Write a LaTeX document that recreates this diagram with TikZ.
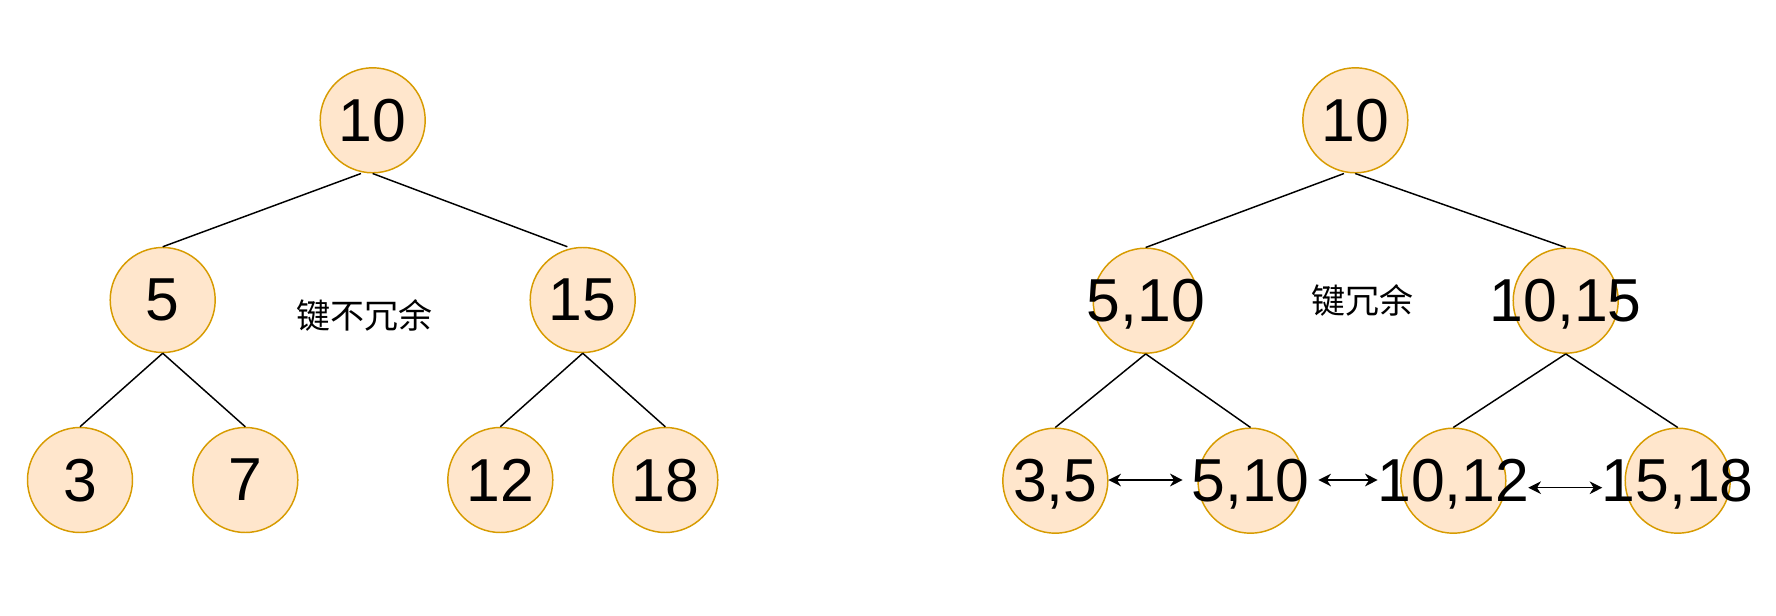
\documentclass[tikz,border=0pt]{standalone}
\usepackage{fontspec}
\setmainfont{Liberation Sans}
\newfontfamily\cjk{Noto Sans CJK SC}
\usetikzlibrary{arrows.meta}
\definecolor{nodefill}{HTML}{FFE6CC}
\definecolor{nodeline}{HTML}{D79B00}
\begin{document}
\begin{tikzpicture}[x=0.75pt,y=-0.75pt,
  keynode/.style={circle,draw=nodeline,fill=nodefill,line width=1.1pt,minimum size=78.75pt,inner sep=0pt},
  numtext/.style={font=\fontsize{45.5}{54}\selectfont,inner sep=0pt,text depth=0pt},
  note/.style={font=\cjk\fontsize{25.5}{30}\selectfont,inner sep=0pt},
  edgeline/.style={line width=1.1pt,black},
  link/.style={line width=1.1pt,black,{Stealth[length=9.5pt,width=9.5pt,inset=3pt]}-{Stealth[length=9.5pt,width=9.5pt,inset=3pt]}}]
\useasboundingbox (0,0) rectangle (1776,616);
% ---------- left tree ----------
\node[keynode] (lr) at (372.7,120.3) {};
\node[keynode] (la) at (162.7,300) {};
\node[keynode] (lb) at (582.7,300) {};
\node[keynode] (l1) at (80,480) {};
\node[keynode] (l2) at (245.3,480) {};
\node[keynode] (l3) at (500.3,480) {};
\node[keynode] (l4) at (665.3,480) {};
\node[numtext] (tlr) at (lr) {10};
\node[numtext] (tla) at (la) {5};
\node[numtext] (tlb) at (lb) {15};
\node[numtext] (tl1) at (l1) {3};
\node[numtext] (tl2) at (l2) {7};
\node[numtext] (tl3) at (l3) {12};
\node[numtext] (tl4) at (l4) {18};
\draw[edgeline] ([xshift=-8.8pt]lr.south) -- (la.north);
\draw[edgeline] (lr.south) -- ([xshift=-11.5pt]lb.north);
\draw[edgeline] (la.south) -- (l1.north);
\draw[edgeline] (la.south) -- (l2.north);
\draw[edgeline] (lb.south) -- (l3.north);
\draw[edgeline] (lb.south) -- (l4.north);
\node[note] (ln) at (364.5,315) {键不冗余};
% ---------- right tree ----------
\node[keynode] (rr) at (1355.3,120.3) {};
\node[keynode] (ra) at (1145.7,300.7) {};
\node[keynode] (rb) at (1565.7,300.7) {};
\node[keynode] (r1) at (1055.3,480.7) {};
\node[keynode] (r2) at (1250.5,480.7) {};
\node[keynode] (r3) at (1453.3,480.7) {};
\node[keynode] (r4) at (1677.7,480.7) {};
\node[numtext] (trr) at (rr) {10};
\node[numtext] (tra) at (ra) {5,10};
\node[numtext] (trb) at (rb) {10,15};
\node[numtext] (tr1) at (r1) {3,5};
\node[numtext] (tr2) at (r2) {5,10};
\node[numtext] (tr3) at (r3) {10,12};
\node[numtext] (tr4) at (r4) {15,18};
\draw[edgeline] ([xshift=-8.5pt]rr.south) -- (ra.north);
\draw[edgeline] (rr.south) -- (rb.north);
\draw[edgeline] (ra.south) -- (r1.north);
\draw[edgeline] (ra.south) -- (r2.north);
\draw[edgeline] (rb.south) -- (r3.north);
\draw[edgeline] (rb.south) -- (r4.north);
\node[note] (rn) at (1362,300) {键冗余};
\coordinate (a1s) at (1108.3,480);
\coordinate (a1e) at (1182.7,480);
\coordinate (a2s) at (1318.3,480);
\coordinate (a2e) at (1377.7,480);
\coordinate (a3s) at (1528.3,487.7);
\coordinate (a3e) at (1602.3,487.7);
\draw[link] (a1s) -- (a1e);
\draw[link] (a2s) -- (a2e);
\draw[link] (a3s) -- (a3e);
\end{tikzpicture}
\end{document}
